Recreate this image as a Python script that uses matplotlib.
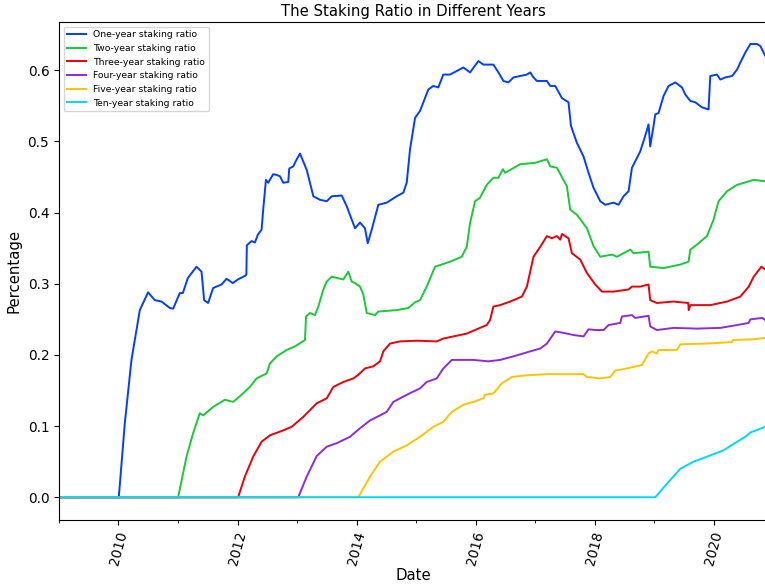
import pandas as pd
import matplotlib
matplotlib.use('Agg')
import matplotlib.pyplot as plt
import matplotlib.dates as mdates

# decimal years and staking ratios
one_year_t = [2009.0, 2010.005, 2010.106, 2010.218, 2010.358, 2010.497, 2010.610, 2010.723, 2010.862, 2010.918,
              2011.030, 2011.081, 2011.165, 2011.311, 2011.395, 2011.439, 2011.506, 2011.590, 2011.731, 2011.815,
              2011.921, 2012.005, 2012.123, 2012.148, 2012.156, 2012.235, 2012.291, 2012.341, 2012.403, 2012.430,
              2012.476, 2012.514, 2012.598, 2012.655, 2012.711, 2012.766, 2012.850, 2012.867, 2012.934, 2012.992,
              2013.047, 2013.160, 2013.271, 2013.383, 2013.496, 2013.580, 2013.748, 2013.832, 2013.916, 2013.971,
              2014.055, 2014.139, 2014.185, 2014.252, 2014.363, 2014.504, 2014.672, 2014.783, 2014.840, 2014.896,
              2014.980, 2015.064, 2015.119, 2015.203, 2015.287, 2015.371, 2015.455, 2015.568, 2015.681, 2015.792,
              2015.904, 2016.044, 2016.128, 2016.296, 2016.380, 2016.464, 2016.548, 2016.632, 2016.744, 2016.857,
              2016.913, 2016.968, 2017.025, 2017.193, 2017.249, 2017.333, 2017.445, 2017.556, 2017.597, 2017.697,
              2017.808, 2017.892, 2017.976, 2018.089, 2018.173, 2018.313, 2018.397, 2018.481, 2018.565, 2018.622,
              2018.677, 2018.761, 2018.845, 2018.901, 2018.929, 2018.985, 2019.013, 2019.069, 2019.153, 2019.237,
              2019.350, 2019.462, 2019.518, 2019.602, 2019.686, 2019.798, 2019.909, 2019.938, 2020.050, 2020.106,
              2020.190, 2020.303, 2020.387, 2020.442, 2020.526, 2020.610, 2020.723, 2020.778, 2020.862]
one_year_v = [0.0, 0.0, 0.104, 0.193, 0.263, 0.288, 0.277, 0.275, 0.266, 0.265,
              0.287, 0.287, 0.308, 0.324, 0.317, 0.277, 0.273, 0.294, 0.299, 0.307,
              0.301, 0.306, 0.311, 0.313, 0.354, 0.360, 0.358, 0.369, 0.376, 0.404,
              0.446, 0.442, 0.454, 0.453, 0.451, 0.442, 0.443, 0.462, 0.465, 0.475,
              0.483, 0.460, 0.423, 0.418, 0.416, 0.423, 0.424, 0.409, 0.390, 0.378,
              0.386, 0.378, 0.357, 0.376, 0.411, 0.414, 0.423, 0.428, 0.442, 0.489,
              0.533, 0.543, 0.555, 0.573, 0.578, 0.576, 0.594, 0.594, 0.599, 0.604,
              0.597, 0.613, 0.608, 0.608, 0.597, 0.585, 0.583, 0.590, 0.592, 0.594,
              0.597, 0.590, 0.585, 0.585, 0.578, 0.578, 0.561, 0.555, 0.522, 0.498,
              0.479, 0.456, 0.435, 0.416, 0.411, 0.414, 0.411, 0.423, 0.430, 0.463,
              0.472, 0.486, 0.508, 0.524, 0.493, 0.522, 0.538, 0.540, 0.564, 0.578,
              0.583, 0.576, 0.566, 0.557, 0.555, 0.548, 0.545, 0.592, 0.594, 0.587,
              0.590, 0.592, 0.601, 0.611, 0.625, 0.637, 0.637, 0.634, 0.620]

two_year_t = [2009.0, 2011.002, 2011.143, 2011.254, 2011.366, 2011.422, 2011.590, 2011.787, 2011.926, 2012.067,
              2012.207, 2012.319, 2012.487, 2012.543, 2012.655, 2012.824, 2012.963, 2013.131, 2013.148, 2013.215,
              2013.299, 2013.355, 2013.439, 2013.496, 2013.580, 2013.775, 2013.859, 2013.916, 2013.971, 2014.055,
              2014.111, 2014.168, 2014.308, 2014.363, 2014.672, 2014.867, 2014.980, 2015.064, 2015.176, 2015.316,
              2015.568, 2015.765, 2015.849, 2015.904, 2015.988, 2016.072, 2016.185, 2016.296, 2016.380, 2016.454,
              2016.492, 2016.744, 2016.997, 2017.193, 2017.249, 2017.361, 2017.529, 2017.585, 2017.697, 2017.866,
              2017.976, 2018.089, 2018.286, 2018.370, 2018.594, 2018.649, 2018.901, 2018.929, 2019.153, 2019.434,
              2019.573, 2019.602, 2019.714, 2019.882, 2019.993, 2020.077, 2020.218, 2020.387, 2020.666, 2020.862]
two_year_v = [0.0, 0.0, 0.057, 0.090, 0.118, 0.115, 0.127, 0.137, 0.134, 0.144,
              0.155, 0.167, 0.174, 0.188, 0.198, 0.207, 0.212, 0.221, 0.254, 0.259,
              0.256, 0.268, 0.292, 0.303, 0.310, 0.306, 0.317, 0.303, 0.301, 0.296,
              0.285, 0.259, 0.256, 0.261, 0.263, 0.266, 0.274, 0.277, 0.296, 0.324,
              0.331, 0.338, 0.352, 0.385, 0.416, 0.421, 0.439, 0.449, 0.449, 0.461,
              0.456, 0.468, 0.470, 0.475, 0.465, 0.463, 0.437, 0.404, 0.397, 0.378,
              0.353, 0.338, 0.341, 0.338, 0.348, 0.343, 0.345, 0.324, 0.322, 0.327,
              0.331, 0.348, 0.355, 0.367, 0.390, 0.416, 0.430, 0.439, 0.446, 0.444]

three_year_t = [2009.0, 2012.010, 2012.123, 2012.262, 2012.403, 2012.543, 2012.766, 2012.908, 2013.103, 2013.328,
                2013.496, 2013.607, 2013.775, 2013.943, 2014.027, 2014.139, 2014.279, 2014.392, 2014.447, 2014.560,
                2014.728, 2015.008, 2015.345, 2015.455, 2015.849, 2016.072, 2016.185, 2016.240, 2016.296, 2016.408,
                2016.576, 2016.773, 2016.857, 2016.968, 2017.081, 2017.193, 2017.277, 2017.361, 2017.417, 2017.445,
                2017.556, 2017.613, 2017.753, 2017.866, 2018.005, 2018.118, 2018.313, 2018.565, 2018.622, 2018.761,
                2018.901, 2018.929, 2019.042, 2019.321, 2019.568, 2019.576, 2019.602, 2019.938, 2020.218, 2020.442,
                2020.582, 2020.666, 2020.795, 2020.862]
three_year_v = [0.0, 0.0, 0.029, 0.057, 0.078, 0.087, 0.094, 0.099, 0.113, 0.132,
                0.139, 0.155, 0.162, 0.167, 0.172, 0.181, 0.184, 0.191, 0.205, 0.216,
                0.219, 0.220, 0.219, 0.223, 0.230, 0.238, 0.242, 0.249, 0.268, 0.270,
                0.275, 0.282, 0.296, 0.338, 0.352, 0.367, 0.364, 0.367, 0.362, 0.370,
                0.364, 0.343, 0.334, 0.315, 0.299, 0.289, 0.289, 0.292, 0.296, 0.296,
                0.299, 0.277, 0.273, 0.275, 0.273, 0.263, 0.270, 0.270, 0.275, 0.282,
                0.296, 0.310, 0.324, 0.320]

four_year_t = [2009.0, 2013.018, 2013.160, 2013.328, 2013.496, 2013.664, 2013.887, 2014.055, 2014.224, 2014.392,
               2014.504, 2014.615, 2014.840, 2015.064, 2015.176, 2015.345, 2015.455, 2015.597, 2015.960, 2016.212,
               2016.408, 2016.632, 2016.913, 2017.081, 2017.193, 2017.333, 2017.472, 2017.640, 2017.808, 2017.892,
               2018.005, 2018.145, 2018.229, 2018.425, 2018.454, 2018.622, 2018.677, 2018.901, 2018.929, 2019.042,
               2019.321, 2019.714, 2020.106, 2020.387, 2020.582, 2020.610, 2020.807, 2020.862]
four_year_v = [0.0, 0.0, 0.029, 0.058, 0.071, 0.076, 0.085, 0.097, 0.108, 0.115,
               0.120, 0.134, 0.144, 0.153, 0.162, 0.167, 0.181, 0.193, 0.193, 0.191,
               0.193, 0.198, 0.205, 0.209, 0.216, 0.233, 0.231, 0.228, 0.226, 0.236,
               0.235, 0.235, 0.242, 0.245, 0.254, 0.256, 0.252, 0.255, 0.240, 0.235,
               0.238, 0.237, 0.238, 0.242, 0.245, 0.250, 0.252, 0.249]

five_year_t = [2009.0, 2014.027, 2014.224, 2014.392, 2014.615, 2014.840, 2015.064, 2015.287, 2015.455, 2015.597,
               2015.792, 2015.960, 2016.128, 2016.156, 2016.296, 2016.437, 2016.605, 2016.800, 2017.193, 2017.472,
               2017.808, 2017.866, 2018.089, 2018.257, 2018.341, 2018.538, 2018.790, 2018.901, 2018.958, 2019.042,
               2019.069, 2019.378, 2019.434, 2019.882, 2020.303, 2020.319, 2020.666, 2020.862]
five_year_v = [0.0, 0.0, 0.029, 0.050, 0.064, 0.073, 0.085, 0.099, 0.106, 0.120,
               0.130, 0.134, 0.139, 0.144, 0.146, 0.160, 0.169, 0.171, 0.173, 0.173,
               0.173, 0.169, 0.167, 0.169, 0.178, 0.181, 0.186, 0.202, 0.205, 0.202,
               0.207, 0.207, 0.215, 0.216, 0.218, 0.221, 0.222, 0.224]

ten_year_t = [2009.0, 2019.013, 2019.210, 2019.434, 2019.657, 2019.882, 2020.161, 2020.387, 2020.526, 2020.610,
              2020.862]
ten_year_v = [0.0, 0.0, 0.019, 0.040, 0.050, 0.057, 0.066, 0.078, 0.085, 0.091,
              0.099]

labels = ['One-year staking ratio', 'Two-year staking ratio', 'Three-year staking ratio',
          'Four-year staking ratio', 'Five-year staking ratio', 'Ten-year staking ratio']
colors = ['#023eff', '#1ac938', '#e8000b', '#8b2be2', '#ffc400', '#00d7ff']


def to_dates(years):
    out = []
    for y in years:
        yr = int(y)
        start = pd.Timestamp(yr, 1, 1)
        end = pd.Timestamp(yr + 1, 1, 1)
        out.append(start + (end - start) * (y - yr))
    return out


series = [(one_year_t, one_year_v), (two_year_t, two_year_v), (three_year_t, three_year_v),
          (four_year_t, four_year_v), (five_year_t, five_year_v), (ten_year_t, ten_year_v)]

fig = plt.figure(figsize=(7.65, 5.86), dpi=100)
ax = fig.add_axes([0.0771, 0.1126, 0.926, 0.85])

for (t, v), lab, c in zip(series, labels, colors):
    ax.plot(to_dates(t), v, color=c, lw=1.4, label=lab)

ax.set_xlim(to_dates([2009.0])[0], to_dates([2020.895])[0])
ax.set_ylim(-0.032, 0.668)
ax.xaxis.set_major_locator(mdates.YearLocator(2))
ax.xaxis.set_minor_locator(mdates.YearLocator(1))
ax.xaxis.set_major_formatter(mdates.DateFormatter('%Y'))
ax.tick_params(axis='both', labelsize=9.8)
plt.setp(ax.get_xticklabels(), rotation=75)

ax.set_title('The Staking Ratio in Different Years', fontsize=10.7, pad=4)
ax.set_xlabel('Date', fontsize=10.7, labelpad=1)
ax.set_ylabel('Percentage', fontsize=10.7)
ax.legend(loc='upper left', fontsize=6.7)

fig.savefig('out.png', dpi=100)
